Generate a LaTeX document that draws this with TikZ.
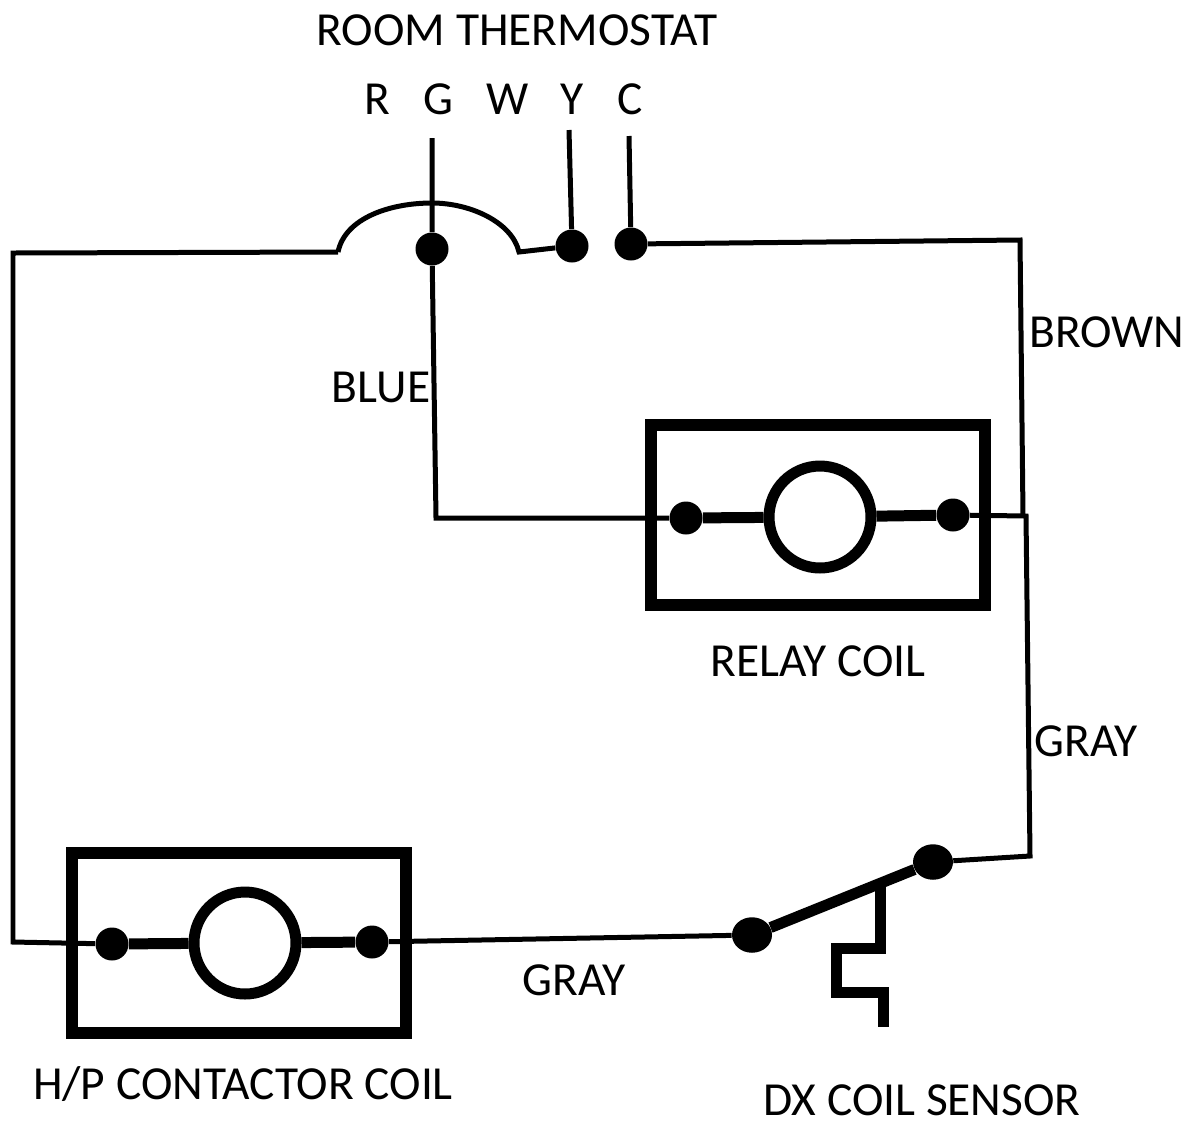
\documentclass[tikz,border=0pt]{standalone}
\usepackage{fontspec}
\setmainfont{Carlito}
\usepackage{tikz}
\usetikzlibrary{shapes.geometric}

\begin{document}
\begin{tikzpicture}[x=.02cm,y=-.02cm,every node/.style={font=\fontsize{27}{32}\selectfont,inner sep=0pt},
		wire/.style={line width=.1cm},
		heavy/.style={line width=.22cm},
		dot/.style={circle,fill=black,minimum size=.66cm},
		contact/.style={ellipse,fill=black,minimum width=.8cm,minimum height=.71cm},
		coil/.style={circle,draw,line width=.22cm,minimum size=2.04cm},
		housing/.style={draw,line width=.23cm,minimum width=6.68cm,minimum height=3.6cm}]
		\useasboundingbox (0,0) rectangle (1196,1120);

		% thermostat
		\node (title) at (517,30) {ROOM THERMOSTAT};
		\node (labelR) at (377,99) {R};
		\node (labelG) at (438,99) {G};
		\node (labelW) at (508,99) {W};
		\node (labelY) at (572,99) {Y};
		\node (labelC) at (630,99) {C};
		\coordinate (topG) at (432,138);
		\coordinate (topY) at (569,130);
		\coordinate (topC) at (629,136);
		\node[dot] (dotG) at (432,249) {};
		\node[dot] (dotY) at (572,246) {};
		\node[dot] (dotC) at (631,244) {};

		% relay coil
		\node[housing] (relay) at (818,515) {};
		\node[coil] (relaycoil) at (820,517) {};
		\node[dot] (relayL) at (686,518) {};
		\node[dot] (relayR) at (953,515) {};
		\node (relaylabel) at (818,661) {RELAY COIL};

		% contactor
		\node[housing] (contactor) at (239,943) {};
		\node[coil] (contactorcoil) at (245,943) {};
		\node[dot] (contactorL) at (112,944) {};
		\node[dot] (contactorR) at (372,942) {};
		\node (contactorlabel) at (243,1084) {H/P CONTACTOR COIL};

		% sensor switch
		\node[contact] (switchL) at (752,935) {};
		\node[contact] (switchR) at (933,862) {};
		\coordinate (stem) at (880,884);
		\coordinate (stemend) at (883,1027);
		\node (sensorlabel) at (922,1100) {DX COIL SENSOR};

		% corners of the wiring
		\coordinate (farleft) at (13,253);
		\coordinate (bottomleft) at (13,942);
		\coordinate (humpL) at (338,252);
		\coordinate (humptop) at (432,203);
		\coordinate (humpR) at (519,252);
		\coordinate (blue) at (436,518);
		\coordinate (brown) at (1020,240);
		\coordinate (joinA) at (1023,516);
		\coordinate (joinB) at (1026,516);
		\coordinate (gray) at (1030,856);

		\draw[wire] (contactorL) -- (bottomleft) -- (farleft) -- (humpL);
		\draw[wire] (humpL) .. controls (345,218) and (390,203) .. (humptop) .. controls (470,203) and (512,222) .. (humpR) -- (dotY);
		\draw[wire] (topG) -- (dotG) -- (blue) -- (relayL);
		\draw[wire] (topY) -- (dotY);
		\draw[wire] (topC) -- (dotC) -- (brown) -- (joinA);
		\draw[wire] (relayR) -- (joinB) -- (gray) -- (switchR);
		\draw[wire] (contactorR) -- (switchL);
		\draw[heavy] (relayL) -- (relaycoil);
		\draw[heavy] (relaycoil) -- (relayR);
		\draw[heavy] (contactorL) -- (contactorcoil);
		\draw[heavy] (contactorcoil) -- (contactorR);
		\draw[heavy] (switchL) -- (switchR);
		\draw[heavy] (stem) -- (880,948) -- (836,948) -- (836,992) -- (883,992) -- (stemend);

		\path (381,387) node (bluelabel) {BLUE};
		\path (1107,332) node (brownlabel) {BROWN};
		\path (1086,741) node (graylabel) {GRAY};
		\path (574,980) node (greylabel) {GRAY};
	\end{tikzpicture}
\end{document}
